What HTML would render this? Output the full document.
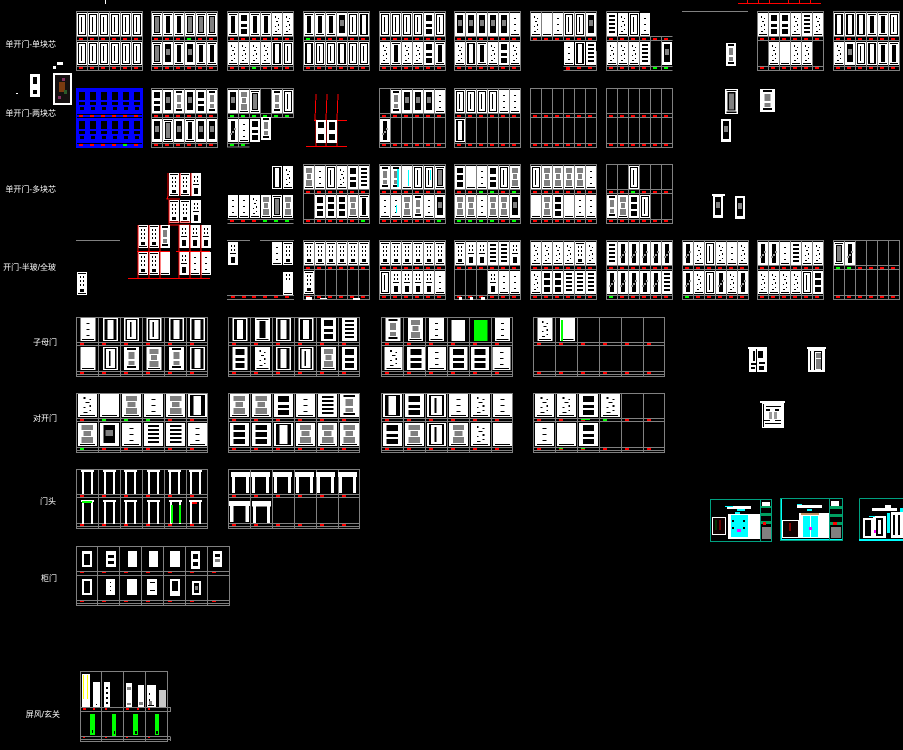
<!DOCTYPE html>
<html><head><meta charset="utf-8"><style>
html,body{margin:0;padding:0;background:#000}
svg{display:block}
text{font-family:"Liberation Sans","Noto Sans CJK SC",sans-serif;font-size:8px;fill:#fff;text-anchor:end}
</style></head><body>
<svg xmlns="http://www.w3.org/2000/svg" width="903" height="750" viewBox="0 0 903 750" shape-rendering="crispEdges">
<defs>
<rect id="W" width="10" height="23" fill="#fff"/>
<g id="a"><use href="#W"/><path d="M1 1h8v1H1zM1 21h8v1H1zM1 2h1v19H1zM8 2h1v19H8zM4 4h1v15H4z"/></g>
<g id="b"><use href="#W"/><path d="M1 1h8v1H1zM1 21h8v1H1zM3 3h4v17H3z"/></g>
<g id="c"><use href="#W"/><path d="M1 1h8v1H1zM1 21h8v1H1zM2 3h6v17H2z"/><path fill="#808080" d="M3 4h4v15H3z"/></g>
<g id="d"><use href="#W"/><path d="M3 3h1v2H3zM6 5h1v1H6zM4 8h2v1H4zM6 11h1v2H6zM3 13h1v1H3zM6 16h1v1H6zM3 18h2v1H3zM1 21h8v1H1z"/></g>
<g id="e"><use href="#W"/><path d="M2 2h6v6H2zM2 11h6v3H2zM2 16h6v5H2z"/></g>
<g id="f"><use href="#W"/><path d="M1 1h8v1H1zM1 21h8v1H1zM1 2h2v19H1zM7 2h2v19H7z"/></g>
<g id="g"><use href="#W"/><path d="M2 1h6v2H2zM2 19h6v2H2z"/><path fill="#808080" d="M3 5h4v7H3zM3 14h4v4H3z"/></g>
<g id="h"><use href="#W"/><path d="M2 2h6v18H2z"/><path fill="#808080" d="M3 7h4v6H3z"/></g>
<g id="i"><use href="#W"/><path d="M2 2h6v2H2zM2 6h6v2H2zM2 10h6v2H2zM2 14h6v2H2zM2 18h6v2H2z"/></g>
<g id="j"><use href="#W"/><path d="M4 5h2v1H4zM4 11h2v1H4zM4 17h2v1H4zM1 21h8v1H1z"/></g>
<use id="k" href="#f"/>
<g id="l"><use href="#W"/><path fill="#808080" d="M2 2h6v5H2zM3 8h4v5H3zM2 14h6v6H2z"/><path d="M1 21h8v1H1z"/></g>
<g id="m"><use href="#W"/><path d="M3 2h4v19H3z"/><path fill="#9a9a9a" d="M2 14h2v2H2zM4 12h2v2H4zM6 9h2v2H6z"/></g>
<g id="n"><use href="#W"/><path d="M2 2h6v5H2zM2 9h6v5H2zM2 16h6v5H2z"/></g>
<g id="p"><use href="#W"/><path d="M1 1h8v1H1zM1 21h8v1H1zM3 4h1v2H3zM6 4h1v2H6zM3 8h1v2H3zM6 8h1v2H6zM3 12h1v2H3zM6 12h1v2H6z"/><path d="M3 17h4v3H3z"/></g>
<g id="q"><use href="#W"/><path d="M3 3h1v2H3zM6 3h1v2H6zM3 7h1v2H3zM6 7h1v2H6zM2 11h6v1H2zM3 15h4v6H3z"/></g>
<g id="u"><use href="#W"/><path d="M1 21h8v1H1z"/></g>
<g id="T" fill="#fff"><path d="M0 0h13v2H0zM1 2h2v22H1zM10 2h2v22h-2z"/></g>
<g id="U" fill="#fff"><path d="M0 0h19v5H0zM1 5h3v16H1zM15 5h3v16h-3z"/></g>
<g id="S">
<path fill="none" stroke="#808080" d="M.5.5h66v59H.5zM11.5.5v59M22.5.5v59M33.5.5v59M44.5.5v59M55.5.5v59M.5 25.5h66M.5 29.5h66M.5 55.5h66"/>
<path fill="#f00" d="M3 27h4v2H3zM14 27h4v2h-4zM25 27h4v2h-4zM36 27h4v2h-4zM47 27h4v2h-4zM58 27h4v2h-4zM3 56h4v2H3zM14 56h4v2h-4zM25 56h4v2h-4zM36 56h4v2h-4zM47 56h4v2h-4zM58 56h4v2h-4z"/>
</g>
<g id="L">
<path fill="none" stroke="#808080" d="M.5.5h131v59H.5zM22.5.5v59M44.5.5v59M66.5.5v59M88.5.5v59M110.5.5v59M.5 25.5h131M.5 28.5h131M.5 54.5h131M.5 57.5h131"/>
<path fill="#f00" d="M4 26h4v2H4zM26 26h4v2h-4zM48 26h4v2h-4zM70 26h4v2h-4zM92 26h4v2h-4zM114 26h4v2h-4zM4 55h4v2H4zM26 55h4v2h-4zM48 55h4v2h-4zM70 55h4v2h-4zM92 55h4v2h-4zM114 55h4v2h-4z"/>
</g>
<g id="bd"><path d="M2 2h6v8H2zM2 12h6v3H2zM3 17h4v3H3z"/></g>
</defs>
<rect width="903" height="750" fill="#000"/>

<!-- labels -->
<text x="56" y="47">单开门-单块芯</text>
<text x="56" y="116">单开门-两块芯</text>
<text x="56" y="192">单开门-多块芯</text>
<text x="56" y="270">开门-半玻/全玻</text>
<text x="57" y="345">子母门</text>
<text x="57" y="421">对开门</text>
<text x="56" y="504">门头</text>
<text x="57" y="581">柜门</text>
<text x="60" y="717">屏风/玄关</text>

<!-- misc left -->
<path fill="#fff" d="M105 0h1v4h-1zM57 62h6v3h-6zM53 66h3v3h-3zM16 93h2v1h-2z"/>
<use href="#W" x="30" y="74"/><path d="M33 77h4v7h-4zM33 90h4v4h-4z"/>
<path fill="#fff" d="M53 73h19v32H53z"/><path fill="#151010" d="M55 75h15v28H55z"/>
<path fill="#7a3a10" d="M59 82h6v10h-6z"/><path fill="#803060" d="M62 78h3v3h-3zM58 96h3v3h-3z"/><path fill="#2a5a2a" d="M64 90h3v4h-3z"/>

<!-- ROW A -->
<g transform="translate(76,11)"><use href="#S"/>
<use href="#a" x="1" y="2"/><use href="#a" x="12" y="2"/><use href="#a" x="23" y="2"/><use href="#a" x="34" y="2"/><use href="#a" x="45" y="2"/><use href="#a" x="56" y="2"/>
<use href="#a" x="1" y="31"/><use href="#a" x="12" y="31"/><use href="#a" x="23" y="31"/><use href="#a" x="34" y="31"/><use href="#a" x="45" y="31"/><use href="#a" x="56" y="31"/></g>
<g transform="translate(151,11)"><use href="#S"/>
<use href="#c" x="1" y="2"/><use href="#b" x="12" y="2"/><use href="#b" x="23" y="2"/><use href="#c" x="34" y="2"/><use href="#c" x="45" y="2"/><use href="#c" x="56" y="2"/>
<use href="#c" x="1" y="31"/><use href="#h" x="12" y="31"/><use href="#b" x="23" y="31"/><use href="#h" x="34" y="31"/><use href="#b" x="45" y="31"/><use href="#b" x="56" y="31"/>
<path fill="#0f0" d="M36 27h4v2h-4z"/></g>
<g transform="translate(227,11)"><use href="#S"/>
<use href="#b" x="1" y="2"/><use href="#e" x="12" y="2"/><use href="#b" x="23" y="2"/><use href="#b" x="34" y="2"/><use href="#d" x="45" y="2"/><use href="#d" x="56" y="2"/>
<use href="#d" x="1" y="31"/><use href="#d" x="12" y="31"/><use href="#d" x="23" y="31"/><use href="#d" x="34" y="31"/><use href="#f" x="45" y="31"/><use href="#a" x="56" y="31"/>
<path fill="#0f0" d="M25 56h4v2h-4z"/></g>
<g transform="translate(303,11)"><use href="#S"/>
<use href="#b" x="1" y="2"/><use href="#b" x="12" y="2"/><use href="#b" x="23" y="2"/><use href="#h" x="34" y="2"/><use href="#a" x="45" y="2"/><use href="#f" x="56" y="2"/>
<use href="#f" x="1" y="31"/><use href="#a" x="12" y="31"/><use href="#a" x="23" y="31"/><use href="#f" x="34" y="31"/><use href="#a" x="45" y="31"/><use href="#a" x="56" y="31"/>
<path fill="#0f0" d="M3 27h4v2H3z"/></g>
<g transform="translate(379,11)"><use href="#S"/>
<use href="#a" x="1" y="2"/><use href="#a" x="12" y="2"/><use href="#a" x="23" y="2"/><use href="#a" x="34" y="2"/><use href="#e" x="45" y="2"/><use href="#a" x="56" y="2"/>
<use href="#d" x="1" y="31"/><use href="#b" x="12" y="31"/><use href="#d" x="23" y="31"/><use href="#d" x="34" y="31"/><use href="#e" x="45" y="31"/><use href="#b" x="56" y="31"/></g>
<g transform="translate(454,11)"><use href="#S"/>
<use href="#h" x="1" y="2"/><use href="#h" x="12" y="2"/><use href="#h" x="23" y="2"/><use href="#h" x="34" y="2"/><use href="#h" x="45" y="2"/><use href="#j" x="56" y="2"/>
<use href="#d" x="1" y="31"/><use href="#f" x="12" y="31"/><use href="#b" x="23" y="31"/><use href="#d" x="34" y="31"/><use href="#e" x="45" y="31"/><use href="#d" x="56" y="31"/></g>
<g transform="translate(530,11)">
<path fill="none" stroke="#808080" d="M.5.5h66v29H.5zM.5 25.5h66M11.5.5v29M22.5.5v29M33.5.5v29M44.5.5v29M55.5.5v29"/>
<path fill="none" stroke="#808080" d="M33.5 55.5h33M33.5 59.5h33M66.5 40v20"/>
<path fill="#f00" d="M3 27h4v2H3zM14 27h4v2h-4zM25 27h4v2h-4zM36 27h4v2h-4zM47 27h4v2h-4zM58 27h4v2h-4zM36 56h4v3h-4zM47 56h4v2h-4zM58 56h4v2h-4z"/>
<use href="#d" x="1" y="2"/><use href="#u" x="12" y="2"/><use href="#j" x="23" y="2"/><use href="#a" x="34" y="2"/><use href="#a" x="45" y="2"/><use href="#h" x="56" y="2"/>
<use href="#j" x="34" y="31"/><use href="#f" x="45" y="31"/><use href="#i" x="56" y="31"/></g>
<g transform="translate(606,11)">
<path fill="none" stroke="#808080" d="M.5.5h33M.5.5v59h66M.5 25.5h66M.5 29.5h66M.5 55.5h66M11.5 25v35M22.5 25v35M33.5 25v35M44.5 25v35M55.5 25v35"/>
<path fill="#f00" d="M3 27h4v2H3zM14 27h4v2h-4zM25 27h4v2h-4zM36 27h4v2h-4zM47 27h4v2h-4zM58 27h4v2h-4zM3 56h4v2H3zM14 56h4v2h-4zM25 56h4v2h-4zM36 56h4v2h-4z"/>
<path fill="#0f0" d="M47 56h4v2h-4zM58 56h4v2h-4z"/>
<use href="#i" x="1" y="2"/><use href="#d" x="12" y="2"/><use href="#a" x="23" y="2"/><use href="#j" x="34" y="2"/>
<use href="#d" x="1" y="31"/><use href="#d" x="12" y="31"/><use href="#d" x="23" y="31"/><use href="#i" x="34" y="31"/><use href="#h" x="56" y="31"/></g>
<path stroke="#808080" d="M682 11.5h66"/>
<path stroke="#f00" fill="none" d="M738 3.5h83M747.500 0v3M758.500 0v3M769.500 0v3M788.500 0v3M799.500 0v3M810.500 0v3"/>
<g transform="translate(757,11)"><use href="#S"/>
<use href="#d" x="1" y="2"/><use href="#e" x="12" y="2"/><use href="#e" x="23" y="2"/><use href="#d" x="34" y="2"/><use href="#i" x="45" y="2"/><use href="#d" x="56" y="2"/>
<use href="#d" x="12" y="31"/><use href="#u" x="23" y="31"/><use href="#d" x="34" y="31"/><use href="#d" x="45" y="31"/></g>
<g transform="translate(833,11)"><use href="#S"/>
<use href="#f" x="1" y="2"/><use href="#f" x="12" y="2"/><use href="#f" x="23" y="2"/><use href="#b" x="34" y="2"/><use href="#b" x="45" y="2"/><use href="#a" x="56" y="2"/>
<use href="#d" x="1" y="31"/><use href="#h" x="12" y="31"/><use href="#a" x="23" y="31"/><use href="#f" x="34" y="31"/><use href="#b" x="45" y="31"/><use href="#b" x="56" y="31"/></g>
<use href="#g" x="726" y="43"/>
<g transform="translate(725,89) scale(1.3,1.08)"><use href="#c"/></g>
<g transform="translate(760,89) scale(1.5,1)"><use href="#g"/></g>
<use href="#h" x="721" y="119"/>

<!-- ROW B -->
<g transform="translate(76,88)">
<rect width="67" height="60" fill="#00f"/>
<use href="#bd" x="1" y="2"/><use href="#bd" x="12" y="2"/><use href="#bd" x="23" y="2"/><use href="#bd" x="34" y="2"/><use href="#bd" x="45" y="2"/><use href="#bd" x="56" y="2"/>
<use href="#bd" x="1" y="31"/><use href="#bd" x="12" y="31"/><use href="#bd" x="23" y="31"/><use href="#bd" x="34" y="31"/><use href="#bd" x="45" y="31"/><use href="#bd" x="56" y="31"/>
<path d="M1 26h65v1H1zM1 29h65v1H1zM1 55h65v1H1z"/>
<path fill="#f00" d="M3 27h4v2H3zM14 27h4v2h-4zM25 27h4v2h-4zM36 27h4v2h-4zM47 27h4v2h-4zM58 27h4v2h-4zM3 56h4v2H3zM14 56h4v2h-4zM25 56h4v2h-4zM36 56h4v2h-4zM58 56h4v2h-4z"/><path fill="#0f0" d="M47 56h4v2h-4z"/></g>
<g transform="translate(151,88)"><use href="#S"/>
<use href="#e" x="1" y="2"/><use href="#h" x="12" y="2"/><use href="#g" x="23" y="2"/><use href="#h" x="34" y="2"/><use href="#e" x="45" y="2"/><use href="#g" x="56" y="2"/>
<use href="#h" x="1" y="31"/><use href="#c" x="12" y="31"/><use href="#h" x="23" y="31"/><use href="#b" x="34" y="31"/><use href="#h" x="45" y="31"/><use href="#h" x="56" y="31"/></g>
<g transform="translate(227,88)">
<path fill="none" stroke="#808080" d="M.5.5h66v29H.5zM.5 25.5h66M11.5.5v29M22.5.5v29M33.5.5v29M44.5.5v29M55.5.5v29M.5 29v30h22M11.500 29v30M.5 55.5h22"/>
<path fill="#0f0" d="M3 27h4v2H3zM14 27h4v2h-4zM25 27h4v2h-4zM36 27h4v2h-4zM47 27h4v2h-4zM58 27h4v2h-4zM3 56h4v2H3zM14 56h4v2h-4z"/>
<use href="#h" x="1" y="2"/><use href="#l" x="12" y="2"/><use href="#c" x="23" y="2"/><use href="#g" x="45" y="2"/><use href="#a" x="56" y="2"/>
<use href="#m" x="1" y="31"/><use href="#j" x="12" y="31"/><use href="#e" x="23" y="31"/><use href="#g" x="34" y="29"/></g>
<g fill="none" stroke="#f00"><path d="M316 94l-1 26h1v23M327 94l-1 26v23M338 94l-1 26v23M314 120.500h33M306 146.500h41M316 143v3M326 143v3M337 143v3"/></g>
<g transform="translate(316,120)"><rect width="10" height="23" fill="#fff"/><path d="M2 2h6v6H2zM2 14h6v6H2z"/><rect x="11" width="10" height="23" fill="#fff"/><path d="M13 2h6v8h-6zM13 14h6v6h-6z"/></g>
<g transform="translate(379,88)"><use href="#S"/>
<use href="#g" x="12" y="2"/><use href="#h" x="23" y="2"/><use href="#h" x="34" y="2"/><use href="#h" x="45" y="2"/><use href="#j" x="56" y="2"/>
<use href="#m" x="1" y="31"/></g>
<g transform="translate(454,88)"><use href="#S"/>
<use href="#a" x="1" y="2"/><use href="#a" x="12" y="2"/><use href="#a" x="23" y="2"/><use href="#a" x="34" y="2"/><use href="#j" x="45" y="2"/><use href="#j" x="56" y="2"/>
<use href="#f" x="1" y="31"/></g>
<use href="#S" x="530" y="88"/><use href="#S" x="606" y="88"/>

<!-- ROW C -->
<g transform="translate(169,173)"><use href="#p"/><use href="#p" x="11"/><use href="#q" x="22"/><use href="#p" y="27"/><use href="#p" x="11" y="27"/><use href="#q" x="22" y="27"/></g>
<path fill="none" stroke="#f00" d="M168 173v23l-1 3h13M169 200v22h22M180 173v23M191 173v23M169 222v3h21"/>
<g transform="translate(227,165)">
<path fill="none" stroke="#808080" d="M.5 54.500h66M.5 58.500h66"/>
<path fill="#f00" d="M3 55h4v2H3zM14 55h4v2h-4zM25 55h4v2h-4z"/><path fill="#0f0" d="M36 55h4v2h-4zM47 55h4v2h-4zM58 55h4v2h-4z"/>
<use href="#f" x="45" y="1"/><use href="#d" x="56" y="1"/>
<use href="#j" x="1" y="30"/><use href="#j" x="12" y="30"/><use href="#d" x="23" y="30"/><use href="#l" x="34" y="30"/><use href="#c" x="45" y="30"/><use href="#l" x="56" y="30"/></g>
<g transform="translate(303,164)"><use href="#S"/>
<use href="#l" x="1" y="2"/><use href="#j" x="12" y="2"/><use href="#a" x="23" y="2"/><use href="#d" x="34" y="2"/><use href="#e" x="45" y="2"/><use href="#i" x="56" y="2"/>
<use href="#e" x="12" y="31"/><use href="#n" x="23" y="31"/><use href="#n" x="34" y="31"/><use href="#l" x="45" y="31"/><use href="#b" x="56" y="31"/>
<path fill="#0f0" d="M58 56h4v2h-4z"/></g>
<g transform="translate(379,164)"><use href="#S"/>
<use href="#g" x="1" y="2"/><use href="#g" x="12" y="2"/><use href="#u" x="23" y="2"/><use href="#a" x="34" y="2"/><use href="#a" x="45" y="2"/><use href="#c" x="56" y="2"/>
<use href="#j" x="1" y="31"/><use href="#j" x="12" y="31"/><use href="#l" x="23" y="31"/><use href="#g" x="34" y="31"/><use href="#j" x="45" y="31"/><use href="#h" x="56" y="31"/>
<path fill="#0ff" d="M18 5h2v18h-2zM29 6h1v16h-1zM51 6h1v10h-1zM17 41h1v8h-1z"/><path fill="#0f0" d="M58 56h4v2h-4z"/></g>
<g transform="translate(454,164)"><use href="#S"/>
<use href="#n" x="1" y="2"/><use href="#u" x="12" y="2"/><use href="#j" x="23" y="2"/><use href="#e" x="34" y="2"/><use href="#a" x="45" y="2"/><use href="#l" x="56" y="2"/>
<use href="#l" x="1" y="31"/><use href="#l" x="12" y="31"/><use href="#j" x="23" y="31"/><use href="#l" x="34" y="31"/><use href="#l" x="45" y="31"/><use href="#h" x="56" y="31"/>
<path fill="#0f0" d="M25 27h4v2h-4zM36 27h4v2h-4zM58 27h4v2h-4zM3 56h4v2H3zM14 56h4v2h-4zM25 56h4v2h-4zM36 56h4v2h-4zM58 56h4v2h-4z"/></g>
<g transform="translate(530,164)"><use href="#S"/>
<use href="#a" x="1" y="2"/><use href="#l" x="12" y="2"/><use href="#l" x="23" y="2"/><use href="#l" x="34" y="2"/><use href="#l" x="45" y="2"/><use href="#j" x="56" y="2"/>
<use href="#u" x="1" y="31"/><use href="#l" x="12" y="31"/><use href="#n" x="23" y="31"/><use href="#u" x="34" y="31"/><use href="#j" x="45" y="31"/><use href="#j" x="56" y="31"/></g>
<g transform="translate(606,164)"><use href="#S"/>
<use href="#a" x="23" y="2"/>
<use href="#g" x="1" y="31"/><use href="#l" x="12" y="31"/><use href="#n" x="23" y="31"/><use href="#a" x="34" y="31"/>
<path fill="#0f0" d="M25 27h4v2h-4z"/></g>
<use href="#h" x="713" y="195"/><use href="#h" x="735" y="196"/>
<path fill="#fff" d="M712 194h13v2h-13z"/>

<!-- ROW D -->
<path stroke="#808080" d="M76 240.500h44M227 240.500h23M260 240.500h34"/>
<use href="#p" x="77" y="272"/>
<g transform="translate(138,225)"><use href="#p"/><use href="#p" x="11"/><use href="#g" x="22"/><use href="#q" x="41"/><use href="#q" x="52"/><use href="#q" x="63"/>
<use href="#p" y="27"/><use href="#p" x="11" y="27"/><use href="#u" x="22" y="27"/><use href="#q" x="41" y="27"/><use href="#j" x="52" y="27"/><use href="#j" x="63" y="27"/></g>
<path fill="none" stroke="#f00" d="M128 278.500h82M137 251.500h33M176 251.500h34M138 225v26M138 252v26M149 225v26M160 225v26M149 252v26M160 252v26M179 225v26M190 225v26M201 225v26M179 252v26M190 252v26M201 252v26"/>
<g transform="translate(227,240)">
<path fill="none" stroke="#808080" d="M0 55.500h67M0 59.500h67"/>
<path fill="#f00" d="M4 56h4v2H4zM15 56h4v2h-4zM25 56h4v2h-4zM36 56h4v2h-4zM47 56h4v2h-4zM58 56h4v2h-4z"/>
<use href="#q" x="1" y="2"/><use href="#j" x="45" y="2"/><use href="#p" x="56" y="2"/><use href="#u" x="56" y="32"/><path d="M59 34h1v2h-1zM62 34h1v2h-1zM59 38h1v2h-1zM62 38h1v2h-1z"/></g>
<g transform="translate(303,240)"><use href="#S"/>
<use href="#p" x="1" y="2"/><use href="#p" x="12" y="2"/><use href="#p" x="23" y="2"/><use href="#p" x="34" y="2"/><use href="#p" x="45" y="2"/><use href="#p" x="56" y="2"/>
<use href="#p" x="1" y="31"/><path fill="#fff" d="M3 57h6v3H3zM17 58h7v1h-7zM50 58h7v2h-7z"/></g>
<g transform="translate(379,240)"><use href="#S"/>
<use href="#p" x="1" y="2"/><use href="#p" x="12" y="2"/><use href="#p" x="23" y="2"/><use href="#p" x="34" y="2"/><use href="#p" x="45" y="2"/><use href="#p" x="56" y="2"/>
<use href="#a" x="1" y="31"/><use href="#q" x="12" y="31"/><use href="#q" x="23" y="31"/><use href="#q" x="34" y="31"/><use href="#q" x="45" y="31"/><use href="#j" x="56" y="31"/></g>
<g transform="translate(454,240)"><use href="#S"/>
<use href="#p" x="1" y="2"/><use href="#q" x="12" y="2"/><use href="#q" x="23" y="2"/><use href="#i" x="34" y="2"/><use href="#i" x="45" y="2"/><use href="#q" x="56" y="2"/>
<use href="#q" x="34" y="31"/><use href="#j" x="45" y="31"/><use href="#j" x="56" y="31"/>
<path fill="#fff" d="M5 57h3v3H5zM16 57h3v3h-3zM27 57h4v3h-4z"/></g>
<g transform="translate(530,240)"><use href="#S"/>
<use href="#d" x="1" y="2"/><use href="#d" x="12" y="2"/><use href="#d" x="23" y="2"/><use href="#d" x="34" y="2"/><use href="#p" x="45" y="2"/><use href="#d" x="56" y="2"/>
<use href="#d" x="1" y="31"/><use href="#n" x="12" y="31"/><use href="#n" x="23" y="31"/><use href="#i" x="34" y="31"/><use href="#i" x="45" y="31"/><use href="#i" x="56" y="31"/></g>
<g transform="translate(606,240)"><use href="#S"/>
<use href="#i" x="1" y="2"/><use href="#m" x="12" y="2"/><use href="#m" x="23" y="2"/><use href="#m" x="34" y="2"/><use href="#m" x="45" y="2"/><use href="#m" x="56" y="2"/>
<use href="#m" x="1" y="31"/><use href="#m" x="12" y="31"/><use href="#m" x="23" y="31"/><use href="#m" x="34" y="31"/><use href="#m" x="45" y="31"/><use href="#i" x="56" y="31"/>
<path fill="#0f0" d="M3 56h4v2H3z"/></g>
<g transform="translate(682,240)"><use href="#S"/>
<use href="#m" x="1" y="2"/><use href="#d" x="12" y="2"/><use href="#a" x="23" y="2"/><use href="#d" x="34" y="2"/><use href="#j" x="45" y="2"/><use href="#d" x="56" y="2"/>
<use href="#m" x="1" y="31"/><use href="#d" x="12" y="31"/><use href="#a" x="23" y="31"/><use href="#m" x="34" y="31"/><use href="#d" x="45" y="31"/><use href="#m" x="56" y="31"/>
<path fill="#0f0" d="M3 56h4v2H3z"/></g>
<g transform="translate(757,240)"><use href="#S"/>
<use href="#m" x="1" y="2"/><use href="#m" x="12" y="2"/><use href="#j" x="23" y="2"/><use href="#i" x="34" y="2"/><use href="#d" x="45" y="2"/><use href="#d" x="56" y="2"/>
<use href="#d" x="1" y="31"/><use href="#d" x="12" y="31"/><use href="#d" x="23" y="31"/><use href="#d" x="34" y="31"/><use href="#a" x="45" y="31"/><use href="#n" x="56" y="31"/></g>
<g transform="translate(833,240)"><use href="#S"/>
<use href="#c" x="1" y="2"/><use href="#m" x="12" y="2"/>
<path fill="#0f0" d="M3 27h4v2H3zM14 27h4v2h-4z"/></g>

<!-- ROW E -->
<g transform="translate(76,317)"><use href="#L"/>
<g transform="translate(0,1) scale(1.5,1)"><use href="#j" x="3"/><use href="#f" x="18"/><use href="#a" x="32"/><use href="#a" x="47"/><use href="#f" x="62"/><use href="#f" x="76"/></g>
<g transform="translate(0,30) scale(1.5,1)"><use href="#u" x="3"/><use href="#a" x="18"/><use href="#g" x="32"/><use href="#l" x="47"/><use href="#g" x="62"/><use href="#f" x="76"/></g></g>
<g transform="translate(228,317)"><use href="#L"/>
<g transform="translate(0,1) scale(1.5,1)"><use href="#f" x="3"/><use href="#b" x="18"/><use href="#f" x="32"/><use href="#f" x="47"/><use href="#e" x="62"/><use href="#i" x="76"/></g>
<g transform="translate(0,30) scale(1.5,1)"><use href="#e" x="3"/><use href="#d" x="18"/><use href="#f" x="32"/><use href="#a" x="47"/><use href="#l" x="62"/><use href="#e" x="76"/></g></g>
<g transform="translate(381,317)"><use href="#L"/>
<g transform="translate(0,1) scale(1.5,1)"><use href="#g" x="3"/><use href="#l" x="18"/><use href="#j" x="32"/><rect x="47" y="2" width="9" height="21" fill="#fff"/><rect x="62" y="2" width="9" height="21" fill="#0f0"/><use href="#j" x="76"/></g>
<g transform="translate(0,30) scale(1.8,1)"><use href="#d" x="2"/><use href="#e" x="14.500"/><use href="#j" x="26"/><use href="#e" x="38"/><use href="#e" x="50"/><use href="#j" x="62"/></g></g>
<g transform="translate(533,317)"><use href="#L"/>
<g transform="translate(0,1) scale(1.5,1)"><use href="#d" x="3"/><use href="#u" x="18"/></g><path fill="#0f0" d="M28 3h2v21h-2z"/></g>

<!-- ROW F -->
<g transform="translate(76,393)"><use href="#L"/>
<g transform="translate(0,1) scale(1.9,1)"><use href="#d" x="1"/><use href="#u" x="12.600"/><use href="#l" x="24.200"/><use href="#j" x="35.800"/><use href="#l" x="47.400"/><use href="#f" x="58.900"/></g>
<g transform="translate(0,30) scale(1.9,1)"><use href="#l" x="1"/><use href="#h" x="12.600"/><use href="#j" x="24.200"/><use href="#i" x="35.800"/><use href="#i" x="47.400"/><use href="#j" x="58.900"/></g>
<path fill="#0f0" d="M26 26h4v2h-4zM48 26h4v2h-4zM70 26h4v2h-4zM4 55h4v2H4z"/></g>
<g transform="translate(228,393)"><use href="#L"/>
<g transform="translate(0,1) scale(1.9,1)"><use href="#l" x="1"/><use href="#l" x="12.600"/><use href="#e" x="24.200"/><use href="#j" x="35.800"/><use href="#i" x="47.400"/><use href="#g" x="58.900"/></g>
<g transform="translate(0,30) scale(1.9,1)"><use href="#n" x="1"/><use href="#n" x="12.600"/><use href="#f" x="24.200"/><use href="#l" x="35.800"/><use href="#l" x="47.400"/><use href="#l" x="58.900"/></g></g>
<g transform="translate(381,393)"><use href="#L"/>
<g transform="translate(0,1) scale(1.9,1)"><use href="#f" x="1"/><use href="#e" x="12.600"/><use href="#a" x="24.200"/><use href="#j" x="35.800"/><use href="#d" x="47.400"/><use href="#j" x="58.900"/></g>
<g transform="translate(0,30) scale(1.9,1)"><use href="#e" x="1"/><use href="#l" x="12.600"/><use href="#a" x="24.200"/><use href="#l" x="35.800"/><use href="#d" x="47.400"/><use href="#u" x="58.900"/></g></g>
<g transform="translate(533,393)"><use href="#L"/>
<g transform="translate(0,1) scale(1.9,1)"><use href="#d" x="1"/><use href="#d" x="12.600"/><use href="#e" x="24.200"/><use href="#d" x="35.800"/></g>
<g transform="translate(0,30) scale(1.9,1)"><use href="#j" x="1"/><use href="#u" x="12.600"/><use href="#e" x="24.200"/></g>
<path fill="#0f0" d="M48 26h9v1h-9zM70 26h4v2h-4zM26 55h4v1h-4zM48 55h4v1h-4z"/></g>

<!-- ROW G -->
<g transform="translate(76,469)"><use href="#L"/>
<use href="#T" x="5" y="1"/><use href="#T" x="27" y="1"/><use href="#T" x="48" y="1"/><use href="#T" x="71" y="1"/><use href="#T" x="92" y="1"/><use href="#T" x="113" y="1"/>
<use href="#T" x="5" y="31"/><use href="#T" x="27" y="31"/><use href="#T" x="48" y="31"/><use href="#T" x="71" y="31"/><use href="#T" x="93" y="31"/><use href="#T" x="113" y="31"/>
<path fill="#0f0" d="M6 32h10v2H6zM95 36h2v18h-2zM103 36h2v18h-2z"/><path fill="#f00" d="M116 33h5v2h-5z"/></g>
<g transform="translate(228,469)"><use href="#L"/>
<use href="#U" x="3" y="3"/><use href="#U" x="23" y="3"/><use href="#U" x="45" y="3"/><use href="#U" x="67" y="3"/><use href="#U" x="88" y="3"/><use href="#U" x="110" y="3"/>
<g transform="translate(1,32) scale(1.1,1)"><use href="#U"/></g><g transform="translate(24,32) scale(1,1.05)"><use href="#U"/></g></g>

<!-- CABINET -->
<g transform="translate(76,546)">
<path fill="none" stroke="#808080" d="M.5.5h153v59H.5zM21.500.5v59M43.500.5v59M65.500.5v59M87.500.5v59M109.500.5v59M131.500.5v59M.5 25.500h153M.5 29.500h153M.5 54.500h153M.5 57.500h153"/>
<path fill="#f00" d="M4 26h4v1H4zM26 26h4v1h-4zM48 26h4v1h-4zM70 26h4v1h-4zM92 26h4v1h-4zM114 26h4v1h-4zM136 26h4v1h-4zM4 55h4v1H4zM26 55h4v1h-4zM48 55h4v1h-4zM70 55h4v1h-4zM92 55h4v1h-4zM114 55h4v1h-4zM136 55h4v1h-4z"/>
<path fill="#fff" d="M6 5h10v16H6zM30 5h10v16H30zM52 5h9v16h-9zM73 5h9v16h-9zM94 5h10v16H94zM115 5h9v18h-9zM137 5h9v16h-9zM6 33h10v16H6zM30 33h9v16h-9zM51 33h10v16H51zM71 33h10v16H71zM94 33h10v17H94zM116 35h9v14h-9z"/>
<path d="M8 8h6v11H8zM32 9h6v3h-6zM32 15h6v3h-6zM117 8h5v5h-5zM117 16h5v4h-5zM139 8h5v3h-5zM8 35h6v12H8zM34 36h1v1h-1zM34 40h1v1h-1zM34 44h1v1h-1zM74 36h5v1h-5zM74 44h5v1h-5zM96 35h6v10h-6zM118 37h5v10h-5z"/>
<path fill="#808080" d="M119 40h3v4h-3zM139 13h5v3h-5z"/></g>

<!-- SCREEN -->
<g transform="translate(80,671)">
<path fill="none" stroke="#808080" d="M.5.5h87v70H.5zM21.500.5v70M43.500.5v70M65.500.5v70M.5 36.500h90M.5 40.500h90M.5 65.500h90M.5 68.500h90M90.500 36v5M90.500 66v4"/>
<path fill="#f00" d="M3 37h3v2H3zM13 37h2v2h-2zM25 37h2v2h-2zM46 37h3v2h-3zM57 37h2v2h-2zM68 37h2v2h-2zM3 66h2v1H3zM25 66h2v1h-2zM46 66h2v1h-2zM68 66h2v1h-2z"/>
<path fill="#fff" d="M2 3h8v33H2zM13 11h7v25h-7zM24 11h6v25h-6zM46 12h6v24h-6zM58 14h6v22h-6zM67 14h9v22h-9z"/>
<path fill="#c8c8c8" d="M79 19h7v17h-7z"/>
<path fill="#ff0" d="M3 4h1v24H3zM7 4h1v24H7z"/>
<path d="M26 16h2v2h-2zM26 21h2v2h-2zM26 26h2v2h-2zM26 31h2v2h-2zM16 33h1v1h-1zM69 22h1v2h-1zM69 28h1v2h-1zM68 34h6v1h-6z"/>
<path fill="#808080" d="M47 16h4v3h-4zM47 32h4v2h-4zM59 31h4v3h-4zM69 30h3v4h-3z"/>
<path fill="#0f0" d="M10 43h5v21h-5zM32 43h4v22h-4zM53 43h5v21h-5zM75 43h4v21h-4z"/>
<path d="M12 59h1v3h-1zM34 60h1v3h-1zM55 60h2v3h-2zM76 60h2v3h-2z"/></g>
<g transform="translate(748,347)"><path fill="#fff" d="M0 0h19v2H0zM1 2h18v23H1z"/><path d="M5 4h2v10H5zM10 4h5v7h-5zM8 2h1v23H8zM3 16h5v2H3zM11 15h6v2h-6zM11 19h5v4h-5zM3 20h4v2H3z"/></g>
<g transform="translate(807,347)"><path fill="#fff" d="M0 0h19v2H0zM1 2h17v23H1z"/><path d="M3 4h1v19H3zM7 4h1v19H7zM14 4h1v19h-1zM8 4h7v1H8z"/><path fill="#808080" d="M9 6h5v5H9zM9 12h5v10H9z"/></g>
<g transform="translate(760,401)"><path fill="#fff" d="M0 0h25v2H0zM2 2h22v25H2z"/><path d="M3 3h1v23H3zM6 5h15v1H6zM6 8h4v2H6zM15 8h4v2h-4zM4 19h6v1H4zM15 19h6v1h-6zM5 22h16v1H5z"/><path fill="#9a9a9a" d="M9 11h3v7H9zM14 11h3v7h-3z"/></g>

<!-- COLOUR SHEETS -->
<g transform="translate(710,499)">
<path fill="none" stroke="#00a080" d="M.5.5h61v42H.5zM50.500.5v42"/>
<path fill="#fff" d="M2 18h14v18H2z"/><path fill="#100" d="M3 19h12v16H3z"/><path fill="#600" d="M9 21h2v10H9z"/><path fill="#030" d="M5 21h2v10H5z"/>
<path fill="#fff" d="M18 15h32v25H18zM17 7h24v3H17zM41 18h7v22h-7z"/><path fill="#0ff" d="M21 16h17v22H21z"/><path fill="#0ff" d="M15 7h8v1h-8zM27 10h8v2h-8zM25 13h5v2h-5z"/><path fill="#f0f" d="M27 30h4v3h-4z"/>
<path fill="#000" d="M22 21h2v2h-2zM33 21h2v2h-2zM22 28h2v2h-2zM33 28h2v2h-2z"/>
<path fill="#fff" d="M52 3h8v4h-8z"/><path fill="#00a060" d="M51 7h10v2H51zM51 14h10v3H51zM51 22h10v3H51z"/><path fill="#808080" d="M52 28h9v12h-9z"/><path fill="#f00" d="M53 23h3v3h-3z"/>
</g>
<g transform="translate(780,498)">
<path fill="#0ff" d="M0 0h2v43H0zM0 41h63v2H0z"/>
<path fill="none" stroke="#00a080" d="M.5.5h62v42H.5zM49.500.5v42"/>
<path fill="#fff" d="M2 22h17v18H2z"/><path fill="#100" d="M3 23h15v16H3z"/><path fill="#800" d="M9 25h2v8H9z"/>
<path fill="#fff" d="M19 15h30v25H19zM17 7h25v3H17zM42 17h6v22h-6z"/><path fill="#c09060" d="M21 15h18v2H21z"/><path fill="#0ff" d="M23 18h7v21h-7zM31 18h7v21h-7z"/><path fill="#f0f" d="M29 29h3v3h-3z"/><path fill="#0ff" d="M17 6h5v1h-5zM27 11h5v2h-5z"/>
<path fill="#fff" d="M51 3h8v5h-8z"/><path fill="#00a060" d="M50 8h12v3H50zM50 16h12v3H50zM50 24h12v3H50z"/><path fill="#808080" d="M51 29h10v11H51z"/><path fill="#f00" d="M53 24h4v3h-4z"/>
</g>
<g transform="translate(859,498)">
<path fill="none" stroke="#00a080" d="M.5.5h50M.5.5v42h50"/><path fill="#0ff" d="M0 41h44v2H0z"/>
<path fill="#fff" d="M4 20h10v20H4z"/><path d="M6 22h6v16H6z"/>
<path fill="#fff" d="M13 10h25v3H13zM26 7h6v3h-6zM32 14h12v26H32zM14 18h13v22H14z"/><path d="M17 20h7v18h-7zM34 17h2v20h-2zM39 17h2v20h-2z"/><path fill="#fff" d="M19 22h3v14h-3z"/><path fill="#0ff" d="M28 15h3v20h-3zM41 10h3v4h-3zM10 18h6v1h-6z"/><path fill="#f0f" d="M15 32h2v3h-2z"/>
</g>
</svg>
</body></html>
